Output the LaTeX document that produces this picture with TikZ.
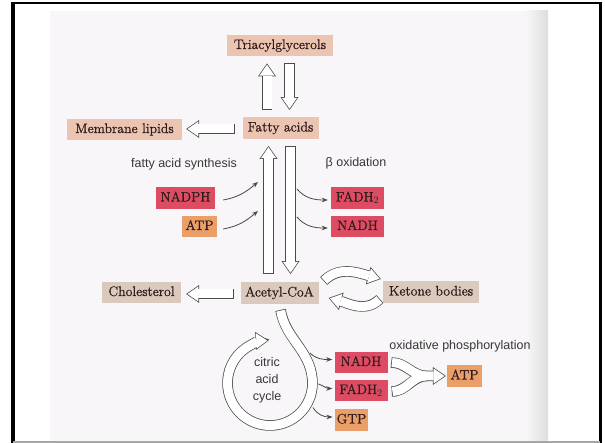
\documentclass[tikz,border=0pt]{standalone}
\usepackage{fontspec}
\usepackage{tikz}
\usetikzlibrary{arrows.meta}
\usetikzlibrary{positioning}
\newfontfamily\labelfont{Liberation Sans}
\newfontfamily\boxfont{Latin Modern Roman}[FakeBold=0.9]

\definecolor{lipid}{RGB}{236,196,178}
\definecolor{acyl}{RGB}{218,202,189}
\definecolor{carrier}{RGB}{222,76,100}
\definecolor{energy}{RGB}{234,158,104}
\definecolor{boxtext}{RGB}{48,28,28}
\definecolor{page}{RGB}{248,246,248}
\definecolor{edge}{RGB}{75,75,75}

\tikzset{
  box/.style={inner xsep=2pt, inner ysep=4.25pt, text height=10pt, text depth=3pt,
    text=boxtext, font=\boxfont\fontsize{13.8}{15}\selectfont},
  lipidbox/.style={box, fill=lipid},
  acylbox/.style={box, fill=acyl},
  carrierbox/.style={box, fill=carrier},
  energybox/.style={box, fill=energy},
  note/.style={text=black!78, font=\labelfont\fontsize{12.5}{17}\selectfont},
  feed/.style={draw=black!72, line width=0.8pt, -{Stealth[length=6pt,width=4.5pt]}},
  hollowout/.style={draw=edge, line width=10.5pt,
    -{Triangle[length=13pt,width=18pt,line width=0pt]}},
  hollowin/.style={draw=white, line width=9pt, shorten <=0.75pt, shorten >=1.3pt,
    -{Triangle[length=10.9pt,width=15.1pt,line width=0pt]}},
}

\begin{document}
\begin{tikzpicture}[x=1pt,y=1pt]
          \useasboundingbox (0,0) rectangle (605,443);
          % scanned page and frame
          \fill[page] (50,0) rectangle (548,432);
          \shade[left color=page, right color=black!13] (526,0) rectangle (548,432);
          \draw[line width=3.5pt] (13,0) -- (13,440.5);
          \draw[line width=2pt] (11.25,440) -- (602,440);
          \draw[line width=3pt] (600.5,0) -- (600.5,441);
          \draw[black!35, line width=1.2pt] (13,1) -- (600,1);

          % boxes
          \node[lipidbox, minimum width=106pt] (tri) at (280,397.5) {Triacylglycerols};
          \node[lipidbox, minimum width=76pt] (fatty) at (280.5,315) {Fatty acids};
          \node[lipidbox, minimum width=115pt] (memb) at (124.5,313.5) {Membrane lipids};
          \node[acylbox, minimum width=79pt] (chol) at (141.5,150.5) {Cholesterol};
          \node[acylbox, minimum width=78pt] (acoa) at (279.5,150) {Acetyl-CoA};
          \node[acylbox, minimum width=96pt] (keto) at (431,151) {Ketone bodies};
          \node[carrierbox, minimum width=59pt] (nadph) at (185.5,245) {NADPH};
          \node[energybox, minimum width=35pt] (atpsyn) at (199.5,216.5) {ATP};
          \node[carrierbox, minimum width=53pt] (fadhbeta) at (357.5,245) {FADH$_2$};
          \node[carrierbox, minimum width=53pt] (nadhbeta) at (357.5,216.5) {NADH};
          \node[carrierbox, minimum width=53pt] (nadhtca) at (361,80.5) {NADH};
          \node[carrierbox, minimum width=53pt] (fadhtca) at (361,52.5) {FADH$_2$};
          \node[energybox, minimum width=33pt] (gtp) at (351.5,23) {GTP};
          \node[energybox, minimum width=35pt] (atpox) at (464.5,67) {ATP};

          \node[note] (synth) at (184,279) {fatty acid synthesis};
          \node[note] (beta) at (356,280) {β oxidation};
          \node[note] (oxphos) at (460,97) {oxidative phosphorylation};
          \node[note, align=center] (tca) at (267,63) {citric\\acid\\cycle};

          \coordinate (hub) at (270,60);
          \coordinate (join) at (427,67);

          % hollow arrows, outline first and then the white inside
          \foreach \lay in {hollowout,hollowin} {
            \draw[\lay] ([shift={(-13.5,7)}]fatty.north) -- ([shift={(-13,-7)}]tri.south);
            \draw[\lay] ([shift={(9.5,-7)}]tri.south) -- ([shift={(9,7)}]fatty.north);
            \draw[\lay] ([shift={(-11,8)}]acoa.north) -- ([shift={(-12,-7)}]fatty.south);
            \draw[\lay] ([shift={(10,-7)}]fatty.south) -- ([shift={(11,8)}]acoa.north);
            \draw[\lay] ([shift={(-7.5,-1)}]fatty.west) -- ([shift={(4,0.5)}]memb.east);
            \draw[\lay] ([shift={(-6.5,-1)}]acoa.west) -- ([shift={(5,-1.5)}]chol.east);
            \draw[\lay] ([shift={(5,12)}]acoa.east) to[out=45,in=165] ([shift={(-2,13)}]keto.west);
            \draw[\lay] ([shift={(-3,-7)}]keto.west) to[out=-135,in=-15] ([shift={(10,-5)}]acoa.east);
            \draw[\lay] ([shift={(1,-6)}]acoa.south) to[out=-80,in=95] ([shift={(5:42.5)}]hub)
                        arc[start angle=5, end angle=-268, radius=42.5];
            \draw[\lay] ([xshift=3.5]nadhtca.east) to[out=0,in=180] (join) -- ([xshift=-1]atpox.west);
            \draw[\lay, -] ([shift={(4,-1)}]fadhtca.east) to[out=0,in=180] (join);
          }

          % thin arrows
          \coordinate (synin1) at (258,261);
          \coordinate (synin2) at (258,232);
          \coordinate (betaout1) at (297,254);
          \coordinate (betaout2) at (297,226);
          \coordinate (cyc1) at (310,90);
          \coordinate (cyc2) at (318.5,59);
          \coordinate (cyc3) at (313,35.5);
          \draw[feed] ([shift={(8,-2)}]nadph.east) to[out=10,in=220] (synin1);
          \draw[feed] ([shift={(6,-2.5)}]atpsyn.east) to[out=10,in=220] (synin2);
          \draw[feed] (betaout1) to[out=-50,in=180] ([shift={(-3,-2)}]fadhbeta.west);
          \draw[feed] (betaout2) to[out=-50,in=180] ([shift={(-3,-1.5)}]nadhbeta.west);
          \draw[feed] (cyc1) to[out=-45,in=180] ([shift={(-2,3)}]nadhtca.west);
          \draw[feed] (cyc2) to[out=-20,in=180] ([shift={(-2,2)}]fadhtca.west);
          \draw[feed] (cyc3) to[out=-60,in=180] ([shift={(-2,3)}]gtp.west);
\end{tikzpicture}
\end{document}
